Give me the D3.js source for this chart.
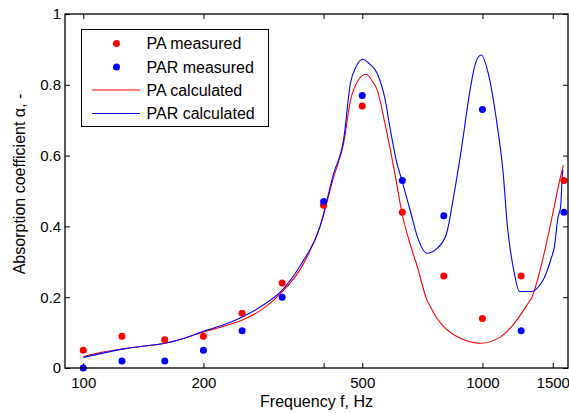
<!DOCTYPE html>
<html>
<head>
<meta charset="utf-8">
<script src="https://cdn.jsdelivr.net/npm/d3@7"></script>
<style>
  html, body { margin: 0; padding: 0; background: #fff; }
  svg text { font-family: "Liberation Sans", Arial, sans-serif; fill: #000; }
</style>
</head>
<body>
<svg id="chart" width="569" height="413"></svg>
<script>
// Third-octave band centre frequencies of the measurements (Hz)
const measuredFreq = [100, 125, 160, 200, 250, 315, 400, 500, 630, 800, 1000, 1250, 1600];
const paMeasured  = [0.05, 0.09, 0.08, 0.09, 0.155, 0.24, 0.46, 0.74, 0.44, 0.26, 0.14, 0.26, 0.53];
const parMeasured = [0.00, 0.02, 0.02, 0.05, 0.105, 0.20, 0.47, 0.77, 0.53, 0.43, 0.73, 0.105, 0.44];

// Model curves
const paCalcFreq = [100, 112, 126, 142, 160, 180, 200, 225, 251, 280, 315, 350, 392, 424, 449, 467, 490, 511, 530, 545, 570, 588, 610, 628, 661, 687, 726, 741, 770, 800, 880, 990, 1110, 1202, 1296, 1330, 1404, 1453, 1513, 1554, 1595];
const paCalc     = [0.032, 0.045, 0.054, 0.062, 0.070, 0.085, 0.102, 0.118, 0.136, 0.165, 0.215, 0.28, 0.40, 0.54, 0.635, 0.755, 0.815, 0.83, 0.81, 0.785, 0.69, 0.616, 0.52, 0.44, 0.345, 0.286, 0.192, 0.173, 0.14, 0.117, 0.084, 0.07, 0.088, 0.126, 0.18, 0.20, 0.29, 0.362, 0.456, 0.52, 0.573];

const parCalcFreq = [100, 112, 126, 142, 160, 180, 200, 225, 251, 280, 315, 350, 392, 424, 449, 467, 482, 501, 520, 545, 570, 588, 610, 628, 661, 687, 726, 770, 813, 844, 885, 931, 960, 993, 1034, 1087, 1127, 1153, 1202, 1238, 1327, 1404, 1429, 1487, 1513, 1547, 1570, 1586, 1592];
const parCalc     = [0.030, 0.042, 0.054, 0.062, 0.070, 0.085, 0.104, 0.122, 0.145, 0.175, 0.22, 0.29, 0.40, 0.55, 0.645, 0.805, 0.85, 0.872, 0.86, 0.832, 0.76, 0.672, 0.58, 0.531, 0.44, 0.371, 0.324, 0.338, 0.38, 0.475, 0.616, 0.785, 0.86, 0.884, 0.832, 0.691, 0.55, 0.409, 0.267, 0.216, 0.216, 0.24, 0.255, 0.31, 0.34, 0.427, 0.456, 0.55, 0.56];

const xTicks = [100, 200, 400, 500, 1000, 1500];
const xTickLabels = ["100", "200", "", "500", "1000", "1500"];
const yTicks = [0, 0.2, 0.4, 0.6, 0.8, 1];
const yTickLabels = ["0", "0.2", "0.4", "0.6", "0.8", "1"];

const legendLabels = ["PA measured", "PAR measured", "PA calculated", "PAR calculated"];
const RED = "#ff0000", BLUE = "#0000ff";

const svg = d3.select("#chart");
const plot = { left: 65, right: 568, top: 14, bottom: 368 };

const x = d3.scaleLog().domain([90, 1638]).range([plot.left, plot.right]);
const y = d3.scaleLinear().domain([0, 1]).range([plot.bottom, plot.top]);

const tickLen = 5;
const fmtX = (d) => xTickLabels[xTicks.indexOf(d)];
const fmtY = (d) => yTickLabels[yTicks.indexOf(d)];

// Axes: ticks point inward on all four sides
const gx = svg.append("g").attr("transform", `translate(0,${plot.bottom})`)
  .call(d3.axisBottom(x).tickValues(xTicks).tickFormat(fmtX).tickSizeInner(-tickLen).tickSizeOuter(0).tickPadding(9));
const gxTop = svg.append("g").attr("transform", `translate(0,${plot.top})`)
  .call(d3.axisTop(x).tickValues(xTicks).tickFormat("").tickSizeInner(-tickLen).tickSizeOuter(0));
const gy = svg.append("g").attr("transform", `translate(${plot.left},0)`)
  .call(d3.axisLeft(y).tickValues(yTicks).tickFormat(fmtY).tickSizeInner(-tickLen).tickSizeOuter(0).tickPadding(4));
const gyRight = svg.append("g").attr("transform", `translate(${plot.right},0)`)
  .call(d3.axisRight(y).tickValues(yTicks).tickFormat("").tickSizeInner(-tickLen).tickSizeOuter(0));

[gx, gxTop, gy, gyRight].forEach(g => {
  g.select(".domain").remove();
  g.selectAll(".tick line").attr("stroke", "#000").attr("stroke-width", 1);
  g.selectAll(".tick text").attr("font-size", 15).attr("font-family", "Liberation Sans, Arial, sans-serif").attr("fill", "#000");
});

// Curves
const line = d3.line().curve(d3.curveMonotoneX).x(d => x(d[0])).y(d => y(d[1]));
svg.append("path")
  .datum(paCalcFreq.map((f, i) => [f, paCalc[i]]))
  .attr("d", line).attr("fill", "none").attr("stroke", RED).attr("stroke-width", 1.1);
svg.append("path")
  .datum(parCalcFreq.map((f, i) => [f, parCalc[i]]))
  .attr("d", line).attr("fill", "none").attr("stroke", BLUE).attr("stroke-width", 1.1);

// Measured points
svg.append("g").selectAll("circle")
  .data(measuredFreq.map((f, i) => [f, paMeasured[i]]))
  .join("circle").attr("cx", d => x(d[0])).attr("cy", d => y(d[1])).attr("r", 3.5).attr("fill", RED);
svg.append("g").selectAll("circle")
  .data(measuredFreq.map((f, i) => [f, parMeasured[i]]))
  .join("circle").attr("cx", d => x(d[0])).attr("cy", d => y(d[1])).attr("r", 3.5).attr("fill", BLUE);

// Axes frame
svg.append("rect")
  .attr("x", plot.left).attr("y", plot.top)
  .attr("width", plot.right - plot.left).attr("height", plot.bottom - plot.top)
  .attr("fill", "none").attr("stroke", "#000").attr("stroke-width", 1.3);

// Axis titles
svg.append("text")
  .attr("x", (plot.left + plot.right) / 2).attr("y", 407)
  .attr("text-anchor", "middle").attr("font-size", 16)
  .text("Frequency f, Hz");
svg.append("text")
  .attr("transform", "translate(25,184) rotate(-90)")
  .attr("text-anchor", "middle").attr("font-size", 16)
  .text("Absorption coefficient α, -");

// Legend
const lg = svg.append("g");
lg.append("rect").attr("x", 81.5).attr("y", 29.5).attr("width", 187).attr("height", 97)
  .attr("fill", "#fff").attr("stroke", "#000").attr("stroke-width", 1);
const rowY = [43.5, 67, 90, 113.5];
const kinds = ["dot", "dot", "line", "line"];
const colors = [RED, BLUE, RED, BLUE];
legendLabels.forEach((lab, i) => {
  if (kinds[i] === "dot") {
    lg.append("circle").attr("cx", 116.5).attr("cy", rowY[i]).attr("r", 3.5).attr("fill", colors[i]);
  } else {
    lg.append("line").attr("x1", 92).attr("x2", 140).attr("y1", rowY[i]).attr("y2", rowY[i])
      .attr("stroke", colors[i]).attr("stroke-width", 1.1);
  }
  lg.append("text").attr("x", 146.5).attr("y", rowY[i]).attr("dy", "0.36em")
    .attr("font-size", 16).text(lab);
});
</script>
</body>
</html>
